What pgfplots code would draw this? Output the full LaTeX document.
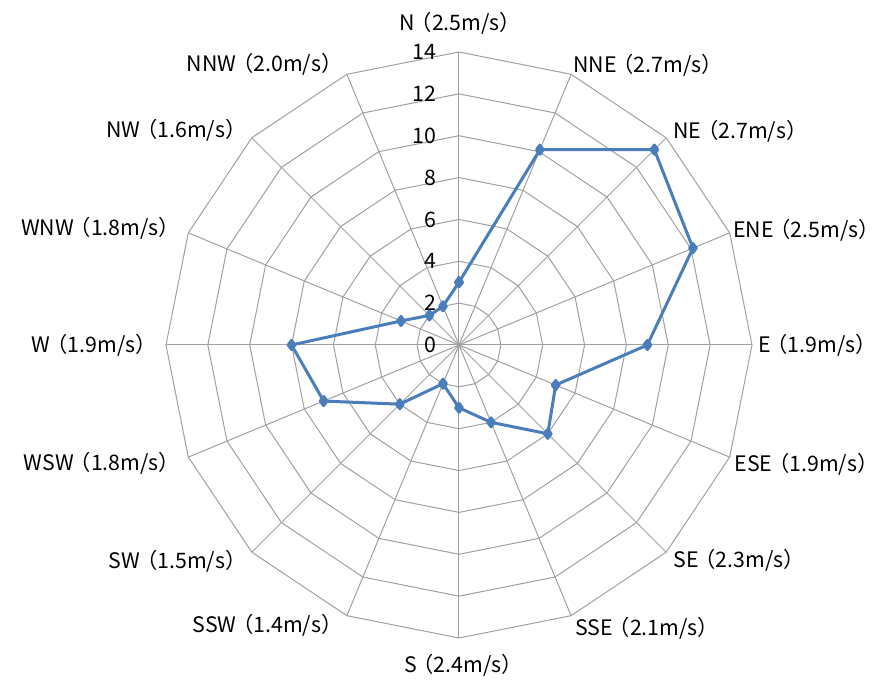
\documentclass[border=0pt]{standalone}
\usepackage{fontspec}
\setmainfont{Noto Sans CJK SC}
\usepackage{pgfplots}
\pgfplotsset{compat=1.18}
\usepgfplotslibrary{polar}

\definecolor{gridgray}{RGB}{160,160,160}
\definecolor{windblue}{RGB}{74,126,187}

% direction label: anchor, xshift, yshift, angle, text
\newcommand\lab[5]{\node[anchor=#1, inner sep=0pt, xshift=#2, yshift=#3] at (axis cs:#4,14) {#5};}
% fullwidth brackets, a little tighter; right-side labels drop the blank after the bracket
\newcommand\lp{\kern-0.2em（}
\newcommand\rpw{）\kern-0.75em}

\begin{document}
\begin{tikzpicture}[font=\fontsize{16}{19}\selectfont]
\begin{polaraxis}[
  hide axis,
  scale only axis,
  width=439.5pt, height=439.5pt,
  xmin=0, xmax=360, ymin=0, ymax=14,
  clip=false,
]
% polygon rings
\pgfplotsinvokeforeach{2,4,6,8,10,12,14}{
  \addplot[gridgray, line width=0.75pt, no markers] coordinates {
    (90,#1) (67.5,#1) (45,#1) (22.5,#1) (0,#1) (337.5,#1) (315,#1) (292.5,#1)
    (270,#1) (247.5,#1) (225,#1) (202.5,#1) (180,#1) (157.5,#1) (135,#1) (112.5,#1) (90,#1)};
}
% spokes
\pgfplotsinvokeforeach{0,22.5,45,67.5,90,112.5,135,157.5,180,202.5,225,247.5,270,292.5,315,337.5}{
  \addplot[gridgray, line width=0.75pt, no markers] coordinates {(#1,0) (#1,14)};
}

% frequencies, N clockwise
\addplot[windblue, line width=2.25pt, line join=round,
  mark=diamond*, mark size=3.4pt, mark options={solid, fill=windblue}] coordinates {
  (90,3) (67.5,10.1) (45,13.2) (22.5,12.1) (0,9) (337.5,5) (315,6) (292.5,4)
  (270,3) (247.5,2) (225,4) (202.5,7) (180,8) (157.5,3) (135,2) (112.5,2) (90,3)};

% radial tick labels
\pgfplotsinvokeforeach{0,2,4,6,8,10,12,14}{
  \node[anchor=east, inner sep=0pt, xshift=-17pt] at (axis cs:90,#1) {#1};
}

\coordinate (c) at (axis cs:0,0);

\lab{center}{1pt}{21.5pt}{90}{N\lp 2.5m/s）}
\lab{west}{1.5pt}{7pt}{67.5}{NNE\lp 2.7m/s\rpw}
\lab{west}{5.25pt}{5.25pt}{45}{NE\lp 2.7m/s\rpw}
\lab{west}{2.5pt}{2.25pt}{22.5}{ENE\lp 2.5m/s\rpw}
\lab{west}{4.5pt}{0pt}{0}{E\lp 1.9m/s\rpw}
\lab{west}{3.5pt}{-5.25pt}{337.5}{ESE\lp 1.9m/s\rpw}
\lab{west}{5.25pt}{-6pt}{315}{SE\lp 2.3m/s\rpw}
\lab{west}{3pt}{-9.75pt}{292.5}{SSE\lp 2.1m/s\rpw}
\lab{center}{3.4pt}{-20.25pt}{270}{S\lp 2.4m/s）}
\lab{east}{-3pt}{-7.5pt}{247.5}{SSW\lp 1.4m/s）}
\lab{east}{-3.75pt}{-6.75pt}{225}{SW\lp 1.5m/s）}
\lab{east}{-6pt}{-4.5pt}{202.5}{WSW\lp 1.8m/s）}
\lab{east}{-6.75pt}{0pt}{180}{W\lp 1.9m/s）}
\lab{east}{-6pt}{3.75pt}{157.5}{WNW\lp 1.8m/s）}
\lab{east}{-3.75pt}{6pt}{135}{NW\lp 1.6m/s）}
\lab{east}{-3pt}{7.5pt}{112.5}{NNW\lp 2.0m/s）}
\end{polaraxis}
\pgfresetboundingbox
\path ([shift={(-344.25pt,258.75pt)}]c) rectangle ([shift={(314.25pt,-252pt)}]c);
\end{tikzpicture}
\end{document}
